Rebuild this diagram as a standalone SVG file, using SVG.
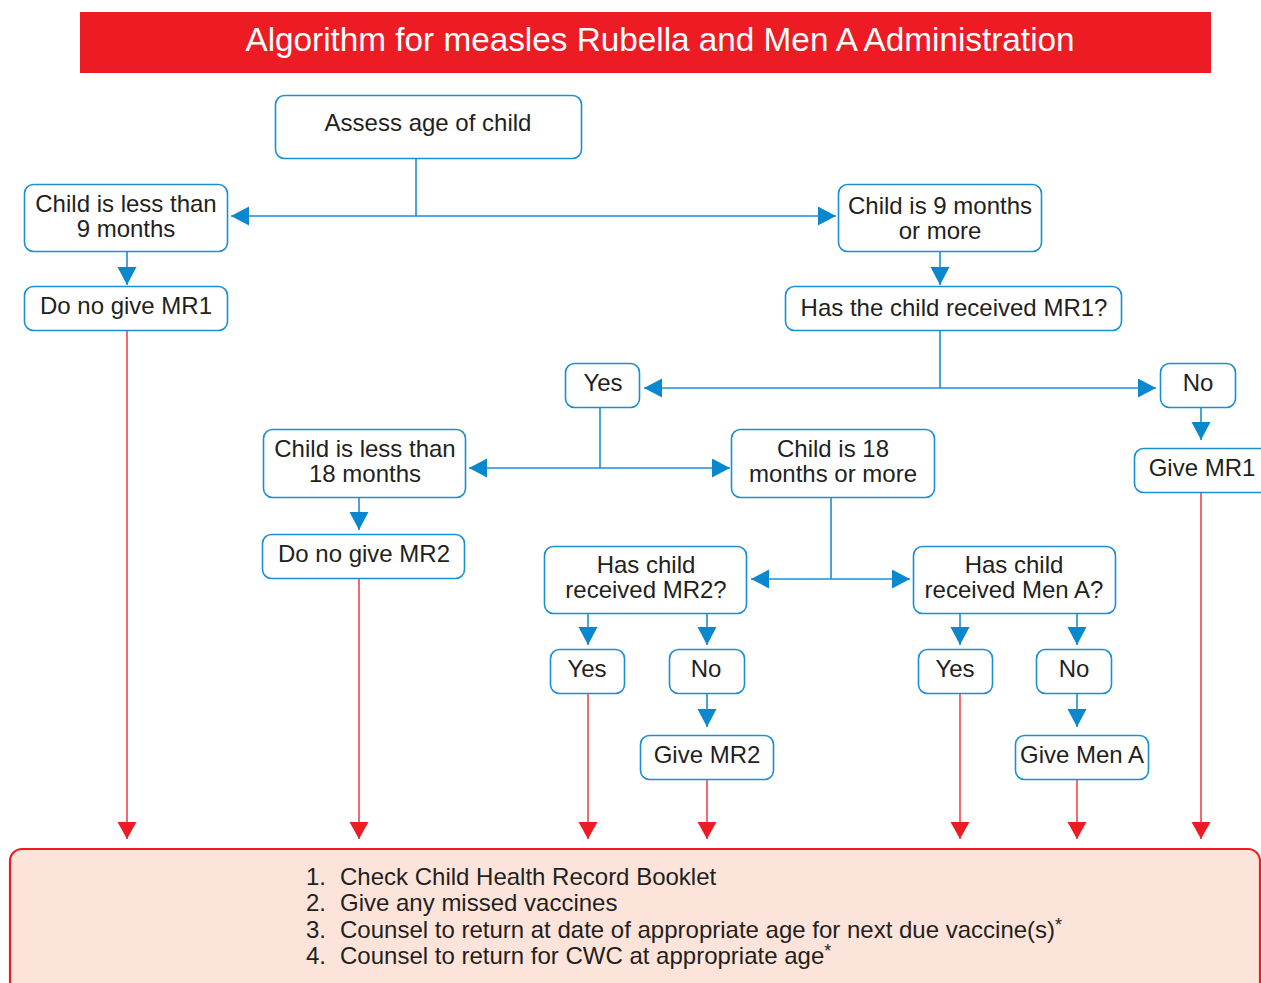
<svg xmlns="http://www.w3.org/2000/svg" width="1261" height="983" viewBox="0 0 1261 983">
<style>
.box{fill:#fff;stroke:#1a8fd3;stroke-width:1.6}
.t{font-family:"Liberation Sans",Arial,sans-serif;font-size:24px;fill:#231f20;text-anchor:middle}
.bl{fill:none;stroke:#1a8fd3;stroke-width:1.6}
.rl{fill:none;stroke:#ee2a32;stroke-width:1.4}
.lt{font-family:"Liberation Sans",Arial,sans-serif;font-size:24px;fill:#231f20}
.sup{font-size:18px}
</style>
<defs>
<marker id="ab" markerUnits="userSpaceOnUse" markerWidth="19" markerHeight="20" refX="18" refY="9.5" orient="auto" viewBox="0 0 19 20"><path d="M0,0 L18,9.5 L0,19 z" fill="#0a88cf"/></marker>
<marker id="ar" markerUnits="userSpaceOnUse" markerWidth="19" markerHeight="20" refX="17" refY="9.5" orient="auto" viewBox="0 0 19 20"><path d="M0,0 L17,9.5 L0,19 z" fill="#ed1c24"/></marker>
</defs>
<rect x="80" y="12" width="1131" height="61" fill="#ed1c24"/>
<text x="660" y="51" style="font-family:'Liberation Sans',Arial,sans-serif;font-size:33.3px;fill:#fff;text-anchor:middle">Algorithm for measles Rubella and Men A Administration</text>

<g id="connectors">
<path class="bl" d="M416,159 V216"/>
<path class="bl" d="M416,216 H231" marker-end="url(#ab)"/>
<path class="bl" d="M416,216 H836" marker-end="url(#ab)"/>
<path class="bl" d="M127,252 V285" marker-end="url(#ab)"/>
<path class="bl" d="M940,252 V285" marker-end="url(#ab)"/>
<path class="bl" d="M940,331 V388"/>
<path class="bl" d="M940,388 H644" marker-end="url(#ab)"/>
<path class="bl" d="M940,388 H1156" marker-end="url(#ab)"/>
<path class="bl" d="M1201,408 V440" marker-end="url(#ab)"/>
<path class="bl" d="M600,408 V468"/>
<path class="bl" d="M600,468 H469" marker-end="url(#ab)"/>
<path class="bl" d="M600,468 H730" marker-end="url(#ab)"/>
<path class="bl" d="M359,498 V530" marker-end="url(#ab)"/>
<path class="bl" d="M831,498 V579"/>
<path class="bl" d="M831,579 H751" marker-end="url(#ab)"/>
<path class="bl" d="M831,579 H910" marker-end="url(#ab)"/>
<path class="bl" d="M588,614 V645" marker-end="url(#ab)"/>
<path class="bl" d="M707,614 V645" marker-end="url(#ab)"/>
<path class="bl" d="M960,614 V645" marker-end="url(#ab)"/>
<path class="bl" d="M1077,614 V645" marker-end="url(#ab)"/>
<path class="bl" d="M707,694 V727" marker-end="url(#ab)"/>
<path class="bl" d="M1077,694 V727" marker-end="url(#ab)"/>
<path class="rl" d="M127,331 V839" marker-end="url(#ar)"/>
<path class="rl" d="M359,579 V839" marker-end="url(#ar)"/>
<path class="rl" d="M588,694 V839" marker-end="url(#ar)"/>
<path class="rl" d="M707,780 V839" marker-end="url(#ar)"/>
<path class="rl" d="M960,694 V839" marker-end="url(#ar)"/>
<path class="rl" d="M1077,780 V839" marker-end="url(#ar)"/>
<path class="rl" d="M1201,493 V839" marker-end="url(#ar)"/>
</g>

<g id="assess"><rect class="box" x="275.5" y="95.5" width="306" height="63" rx="9"/><text class="t" x="428" y="131">Assess age of child</text></g>
<g id="less9"><rect class="box" x="24.5" y="184.5" width="203" height="67" rx="9"/><text class="t" x="126" y="211.5">Child is less than<tspan x="126" dy="25">9 months</tspan></text></g>
<g id="nomr1"><rect class="box" x="24.5" y="286.5" width="203" height="44" rx="9"/><text class="t" x="126" y="314">Do no give MR1</text></g>
<g id="more9"><rect class="box" x="838.5" y="184.5" width="203" height="67" rx="9"/><text class="t" x="940" y="213.5">Child is 9 months<tspan x="940" dy="25">or more</tspan></text></g>
<g id="recmr1"><rect class="box" x="785.5" y="286.5" width="336" height="44" rx="9"/><text class="t" x="954" y="316">Has the child received MR1?</text></g>
<g id="yes1"><rect class="box" x="565.5" y="363.5" width="74" height="44" rx="9"/><text class="t" x="603" y="391">Yes</text></g>
<g id="no1"><rect class="box" x="1160.5" y="363.5" width="75" height="44" rx="9"/><text class="t" x="1198" y="391">No</text></g>
<g id="givemr1"><rect class="box" x="1134.5" y="448.5" width="140" height="44" rx="9"/><text class="t" x="1202" y="476">Give MR1</text></g>
<g id="less18"><rect class="box" x="263.5" y="429.5" width="202" height="68" rx="9"/><text class="t" x="365" y="457">Child is less than<tspan x="365" dy="25">18 months</tspan></text></g>
<g id="more18"><rect class="box" x="731.5" y="429.5" width="203" height="68" rx="9"/><text class="t" x="833" y="457">Child is 18<tspan x="833" dy="25">months or more</tspan></text></g>
<g id="nomr2"><rect class="box" x="262.5" y="534.5" width="202" height="44" rx="9"/><text class="t" x="364" y="562">Do no give MR2</text></g>
<g id="recmr2"><rect class="box" x="544.5" y="546.5" width="202" height="67" rx="9"/><text class="t" x="646" y="572.5">Has child<tspan x="646" dy="25">received MR2?</tspan></text></g>
<g id="recmena"><rect class="box" x="913.5" y="546.5" width="202" height="67" rx="9"/><text class="t" x="1014" y="572.5">Has child<tspan x="1014" dy="25">received Men A?</tspan></text></g>
<g id="yes2"><rect class="box" x="550.5" y="649.5" width="74" height="44" rx="9"/><text class="t" x="587" y="677">Yes</text></g>
<g id="no2"><rect class="box" x="669.5" y="649.5" width="75" height="44" rx="9"/><text class="t" x="706" y="677">No</text></g>
<g id="givemr2"><rect class="box" x="640.5" y="735.5" width="133" height="44" rx="9"/><text class="t" x="707" y="763">Give MR2</text></g>
<g id="yes3"><rect class="box" x="918.5" y="649.5" width="74" height="44" rx="9"/><text class="t" x="955" y="677">Yes</text></g>
<g id="no3"><rect class="box" x="1036.5" y="649.5" width="75" height="44" rx="9"/><text class="t" x="1074" y="677">No</text></g>
<g id="givemena"><rect class="box" x="1015.5" y="735.5" width="133" height="44" rx="9"/><text class="t" x="1082" y="763">Give Men A</text></g>

<g id="actions">
<rect x="10" y="849" width="1250" height="160" rx="12" fill="#fce4da" stroke="#ed1c24" stroke-width="2.2"/>
<text class="lt" x="306" y="885">1.<tspan x="340">Check Child Health Record Booklet</tspan><tspan x="306" dy="26">2.</tspan><tspan x="340">Give any missed vaccines</tspan><tspan x="306" dy="27">3.</tspan><tspan x="340">Counsel to return at date of appropriate age for next due vaccine(s)</tspan><tspan class="sup" dy="-7">*</tspan><tspan x="306" dy="33">4.</tspan><tspan x="340">Counsel to return for CWC at appropriate age</tspan><tspan class="sup" dy="-7">*</tspan></text>
</g>
</svg>
